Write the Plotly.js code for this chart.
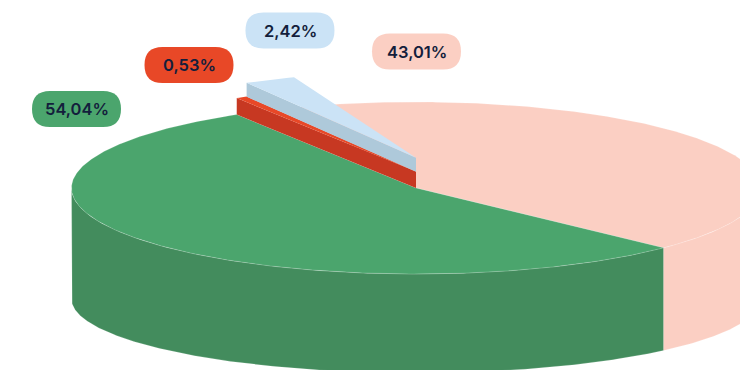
<!DOCTYPE html>
<html>
<head>
<meta charset="utf-8">
<script src="https://cdn.plot.ly/plotly-3.0.1.min.js"></script>
<style>html,body{margin:0;padding:0;background:#fff}#chart{width:740px;height:370px}</style>
</head>
<body>
<div id="chart"></div>
<script>
// Slice values in drawing order, clockwise from the lower right of the disc
const categories = ['green', 'red', 'blue', 'peach'];
const shares = [54.04, 0.53, 2.42, 43.01];
const valueLabels = ['54,04%', '0,53%', '2,42%', '43,01%'];
const topColors = ['#4BA56D', '#E84827', '#CBE3F6', '#FBCFC3'];
const wallColors = ['#438C5D', '#C73822', '#AEC9DA', '#FBCFC3'];
const pillCentres = [[76.5, 109], [189, 65], [290, 30.5], [416.5, 51.5]];

// Projection of the disc
const CX = 416, CY = 188, RX = 344.5, RY = 86;
const BASE_CY = 299, BASE_RY = 74;
const START = 44.1;
const LIFT = [0, 16.5, 30.3, 0];
const WALL = [0, 16.5, 14, 0];
const PILL_W = 89, PILL_H = 36, PILL_R = 18;

const rad = d => d * Math.PI / 180;
const arc = (a0, a1, cy, ry) => {
  const n = Math.max(2, Math.ceil(Math.abs(a1 - a0) * 2));
  const xs = [], ys = [];
  for (let i = 0; i <= n; i++) {
    const t = rad(a0 + (a1 - a0) * i / n);
    xs.push(CX + RX * Math.cos(t));
    ys.push(cy + ry * Math.sin(t));
  }
  return [xs, ys];
};
const poly = (x, y, color, edge) => ({
  type: 'scatter', mode: 'lines', x, y, fill: 'toself', fillcolor: color,
  line: edge ? {color: edge, width: 0.6} : {color, width: 0},
  hoverinfo: 'skip', showlegend: false
});

// Angular extent of each slice from its share
const spans = [];
let cursor = START;
shares.forEach(v => { spans.push([cursor, cursor + v * 3.6]); cursor += v * 3.6; });

const traces = [];
const EDGE = 'rgba(255,255,255,0.28)';

// Tall cylinder walls on the front half
function bodyWall(i, a0, a1) {
  const [tx, ty] = arc(a0, a1, CY, RY);
  const [bx, by] = arc(a1, a0, BASE_CY, BASE_RY);
  traces.push(poly(tx.concat(bx), ty.concat(by), wallColors[i], EDGE));
}
// Flat wedge top, optionally raised
function wedge(i, lift, edge) {
  const [x, y] = arc(spans[i][0], spans[i][1], CY - lift, RY);
  traces.push(poly([CX].concat(x, [CX]), [CY - lift].concat(y, [CY - lift]), topColors[i], edge));
}
// Straight cut face of a raised thin slice, along angle a
function cutFace(i, a) {
  const ex = CX + RX * Math.cos(rad(a));
  const ey = CY + RY * Math.sin(rad(a));
  const top = LIFT[i], bottom = LIFT[i] - WALL[i];
  traces.push(poly([CX, ex, ex, CX, CX],
    [CY - top, ey - top, ey - bottom, CY - bottom, CY - top], wallColors[i]));
}

bodyWall(3, 0, spans[0][0]);
wedge(3, 0, EDGE);
bodyWall(0, spans[0][0], 180);
wedge(0, 0, EDGE);
cutFace(1, spans[1][0]);
wedge(1, LIFT[1]);
cutFace(2, spans[2][0]);
wedge(2, LIFT[2]);

// Rounded label pills
const shapes = pillCentres.map((c, i) => {
  const l = c[0] - PILL_W / 2, r = c[0] + PILL_W / 2, t = c[1] - PILL_H / 2, b = c[1] + PILL_H / 2, k = PILL_R;
  return {
    type: 'path', xref: 'x', yref: 'y', layer: 'above', fillcolor: topColors[i], line: {width: 0},
    path: `M ${l + k} ${t} L ${r - k} ${t} Q ${r} ${t} ${r} ${t + k} L ${r} ${b - k} Q ${r} ${b} ${r - k} ${b} ` +
          `L ${l + k} ${b} Q ${l} ${b} ${l} ${b - k} L ${l} ${t + k} Q ${l} ${t} ${l + k} ${t} Z`
  };
});
const annotations = pillCentres.map((c, i) => ({
  x: c[0] + 0.5, y: c[1], xref: 'x', yref: 'y', text: valueLabels[i], showarrow: false,
  font: {family: 'Inter, sans-serif', size: 16.5, weight: 600, color: '#131E3C'}
}));

Plotly.newPlot('chart', traces, {
  width: 740, height: 370,
  margin: {l: 0, r: 0, t: 0, b: 0},
  paper_bgcolor: '#fff', plot_bgcolor: '#fff',
  showlegend: false, hovermode: false,
  xaxis: {range: [0, 740], visible: false, fixedrange: true},
  yaxis: {range: [370, 0], visible: false, fixedrange: true},
  shapes, annotations
}, {displayModeBar: false, staticPlot: true});
</script>
</body>
</html>
